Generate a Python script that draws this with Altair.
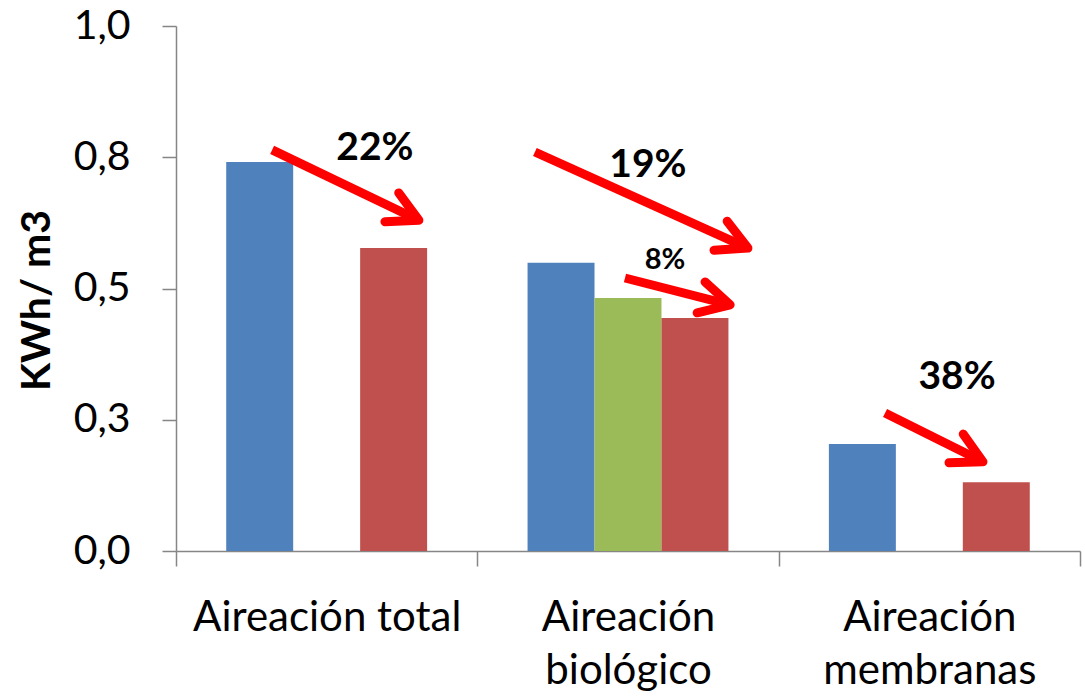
import math
import altair as alt
import pandas as pd

# ---- data -----------------------------------------------------------------
categories = ["Aireación total", "Aireación biológico", "Aireación membranas"]
series = ["Serie 1", "Serie 2", "Serie 3"]
series_colors = ["#4F81BD", "#9BBB59", "#C0504D"]

bar_category = ["Aireación total", "Aireación total",
                "Aireación biológico", "Aireación biológico", "Aireación biológico",
                "Aireación membranas", "Aireación membranas"]
bar_series = ["Serie 1", "Serie 3", "Serie 1", "Serie 2", "Serie 3", "Serie 1", "Serie 3"]
bar_value = [0.741, 0.577, 0.549, 0.482, 0.444, 0.204, 0.131]

y_ticks = [0.0, 0.25, 0.5, 0.75, 1.0]

# annotation arrows (x in category units 0..3, y in KWh/m3)
arrow_x_start = [0.319, 1.191, 1.490, 2.353]
arrow_y_start = [0.764, 0.760, 0.520, 0.263]
arrow_x_end = [0.806, 1.898, 1.839, 2.678]
arrow_y_end = [0.630, 0.577, 0.469, 0.170]

pct_text = ["22%", "19%", "8%", "38%"]
pct_x = [0.660, 1.566, 1.623, 2.592]
pct_y = [0.768, 0.735, 0.554, 0.331]

# ---- layout ---------------------------------------------------------------
W, H = 904, 525
AXIS_GRAY = "#868686"
FONT = "Lato"

bar_df = pd.DataFrame({"categoria": bar_category, "serie": bar_series, "valor": bar_value})

angles = []
for x1, y1, x2, y2 in zip(arrow_x_start, arrow_y_start, arrow_x_end, arrow_y_end):
    dx = (x2 - x1) * W / 3.0
    dy = -(y2 - y1) * H / 1.0
    angles.append(math.degrees(math.atan2(dy, dx)) % 360)

arrow_df = pd.DataFrame({"x1": arrow_x_start, "y1": arrow_y_start,
                         "x2": arrow_x_end, "y2": arrow_y_end, "angle": angles})
pct_df = pd.DataFrame({"texto": pct_text, "px": pct_x, "py": pct_y})

y_scale = alt.Scale(domain=[0, 1], nice=False, zero=True)
xq_scale = alt.Scale(domain=[0, 3], nice=False, zero=False)

y_axis = alt.Axis(values=y_ticks, grid=False, title="KWh/ m3",
                  labelExpr="replace(format(datum.value, '.1f'), '.', ',')",
                  labelFont=FONT, labelFontSize=41, labelColor="black",
                  labelPadding=32, labelFlush=False, labelOverlap=False,
                  tickSize=14, tickColor=AXIS_GRAY, tickWidth=1.5,
                  domainColor=AXIS_GRAY, domainWidth=1.5,
                  titleFont=FONT, titleFontSize=41, titleFontWeight="bold",
                  titleColor="black", titleAngle=270, titleAlign="center",
                  titleBaseline="alphabetic", titleX=-127, titleY=274)

bars = alt.Chart(bar_df).mark_bar().encode(
    x=alt.X("categoria:N", sort=categories,
            scale=alt.Scale(domain=categories, paddingInner=0, paddingOuter=0),
            axis=alt.Axis(title=None, labelAngle=0, tickBand="extent", tickSize=15,
                          tickColor=AXIS_GRAY, tickWidth=1.5, domainColor=AXIS_GRAY,
                          domainWidth=1.5, labelFont=FONT, labelFontSize=42,
                          labelColor="black", labelLineHeight=53, labelPadding=31,
                          labelBaseline="top", labelOverlap=False, labelLimit=600,
                          grid=False,
                          labelExpr="datum.value == 'Aireación total' ? datum.label : split(datum.label, ' ')")),
    xOffset=alt.XOffset("serie:N", scale=alt.Scale(domain=series, paddingInner=0, paddingOuter=0.75)),
    y=alt.Y("valor:Q", scale=y_scale, axis=y_axis),
    color=alt.Color("serie:N", scale=alt.Scale(domain=series, range=series_colors), legend=None),
)

shaft = alt.Chart(arrow_df).mark_rule(color="#FF0000", strokeWidth=9, strokeCap="butt").encode(
    x=alt.X("x1:Q", scale=xq_scale, axis=None),
    y=alt.Y("y1:Q", scale=y_scale, axis=y_axis),
    x2="x2:Q",
    y2="y2:Q",
)

head = alt.Chart(arrow_df).mark_point(
    shape="M -1 -0.532 L 0 0 L -1 0.532", filled=False, color="#FF0000",
    strokeWidth=9, size=3600, opacity=1, strokeJoin="round", strokeCap="round",
).encode(
    x=alt.X("x2:Q", scale=xq_scale, axis=None),
    y=alt.Y("y2:Q", scale=y_scale, axis=y_axis),
    angle=alt.Angle("angle:Q", scale=None),
)

labels = alt.Chart(pct_df).mark_text(font=FONT, fontWeight="bold", color="black",
                                     align="center", baseline="middle").encode(
    x=alt.X("px:Q", scale=xq_scale, axis=None),
    y=alt.Y("py:Q", scale=y_scale, axis=y_axis),
    text="texto:N",
    size=alt.condition(alt.datum.texto == "8%", alt.value(29), alt.value(39)),
)

chart = alt.layer(bars, shaft, head, labels).resolve_scale(x="independent").properties(
    width=W, height=H,
    autosize=alt.AutoSizeParams(type="none"),
    padding={"left": 176, "top": 26, "right": 5, "bottom": 145},
    background="white",
).configure_view(strokeOpacity=0)

chart.save("out.html", embed_options={"renderer": "svg", "actions": False})
